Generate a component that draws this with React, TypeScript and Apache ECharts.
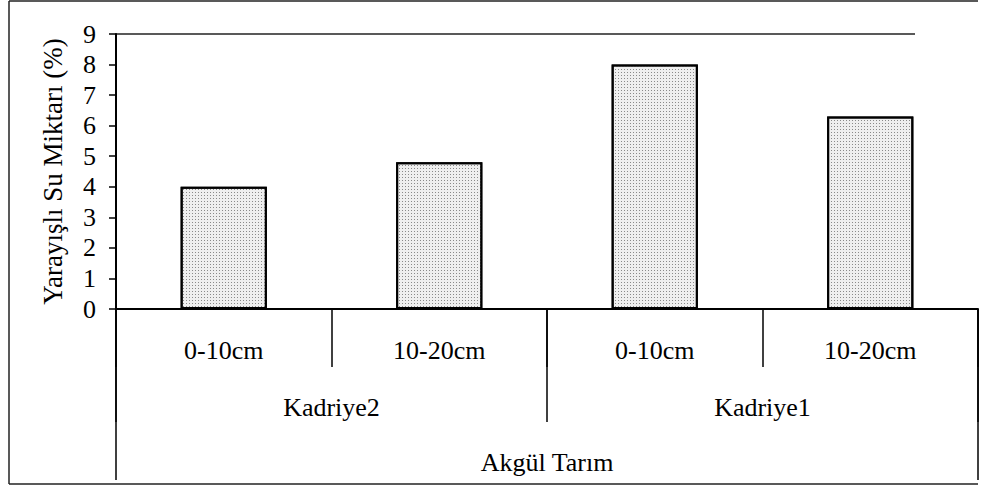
import React, { useEffect, useRef } from "react";
import * as echarts from "echarts";

const depthLabels = ["0-10cm", "10-20cm", "0-10cm", "10-20cm"];
const siteLabels = ["Kadriye2", "Kadriye1"];
const groupLabels = ["Akgül Tarım"];
const waterValues = [4.0, 4.8, 8.0, 6.3];
const yAxisTitle = "Yarayışlı Su Miktarı (%)";

const FONT = '"Times New Roman", Tinos, "Liberation Serif", "DejaVu Serif", "Noto Serif", serif';

export default function App() {
  const ref = useRef<HTMLDivElement>(null);
  useEffect(() => {
    if (!ref.current) return;
    const chart = echarts.init(ref.current, null, { renderer: "svg" });
    const labelBase = { color: "#000", fontSize: 26, fontFamily: FONT };
    chart.setOption({
      animation: false,
      backgroundColor: "#fff",
      textStyle: { fontFamily: FONT },
      grid: { left: 116, right: 12, top: 34, bottom: 182, containLabel: false },
      xAxis: [
        {
          type: "category",
          position: "bottom",
          data: depthLabels,
          axisLine: { show: true, lineStyle: { color: "#000", width: 2 } },
          axisTick: { show: true, alignWithLabel: false, length: 58, lineStyle: { color: "#000", width: 1.5 } },
          axisLabel: { ...labelBase, margin: 28, interval: 0 },
          splitLine: { show: false },
        },
        {
          type: "category",
          position: "bottom",
          data: siteLabels,
          axisLine: { show: false },
          axisTick: { show: true, alignWithLabel: false, length: 113, lineStyle: { color: "#000", width: 1.5 } },
          axisLabel: { ...labelBase, margin: 85, interval: 0 },
          splitLine: { show: false },
        },
        {
          type: "category",
          position: "bottom",
          data: groupLabels,
          axisLine: { show: false },
          axisTick: { show: true, alignWithLabel: false, length: 171, lineStyle: { color: "#000", width: 1.5 } },
          axisLabel: { ...labelBase, margin: 140, interval: 0 },
          splitLine: { show: false },
        },
      ],
      yAxis: {
        type: "value",
        min: 0,
        max: 9,
        interval: 1,
        name: yAxisTitle,
        nameLocation: "middle",
        nameRotate: 90,
        nameGap: 50,
        nameTextStyle: { color: "#000", fontSize: 27, fontFamily: FONT },
        axisLine: { show: true, lineStyle: { color: "#000", width: 2 } },
        axisTick: { show: true, length: 7, lineStyle: { color: "#000", width: 1.5 } },
        axisLabel: { ...labelBase, margin: 20 },
        splitLine: { show: false },
      },
      series: [
        {
          type: "bar",
          xAxisIndex: 0,
          data: waterValues,
          barWidth: "40%",
          itemStyle: {
            color: "#efefef",
            borderColor: "#000",
            borderWidth: 2,
            decal: {
              symbol: "rect",
              symbolSize: 1,
              color: "#8a8a8a",
              dashArrayX: [1, 2],
              dashArrayY: [1, 2],
            },
          },
        },
      ],
      graphic: [
        { type: "line", shape: { x1: 116, y1: 34, x2: 915, y2: 34 }, style: { stroke: "#222", lineWidth: 1.5 } },
        { type: "line", shape: { x1: 9, y1: 1, x2: 978, y2: 1 }, style: { stroke: "#222", lineWidth: 1.5 } },
        { type: "line", shape: { x1: 9, y1: 1, x2: 9, y2: 484 }, style: { stroke: "#222", lineWidth: 1.5 } },
        { type: "line", shape: { x1: 9, y1: 484, x2: 978, y2: 484 }, style: { stroke: "#222", lineWidth: 1.5 } },
      ],
    });
    return () => chart.dispose();
  }, []);
  return (
    <div
      ref={ref}
      style={{ position: "fixed", left: 0, top: 0, width: 990, height: 491, background: "#fff" }}
    />
  );
}
